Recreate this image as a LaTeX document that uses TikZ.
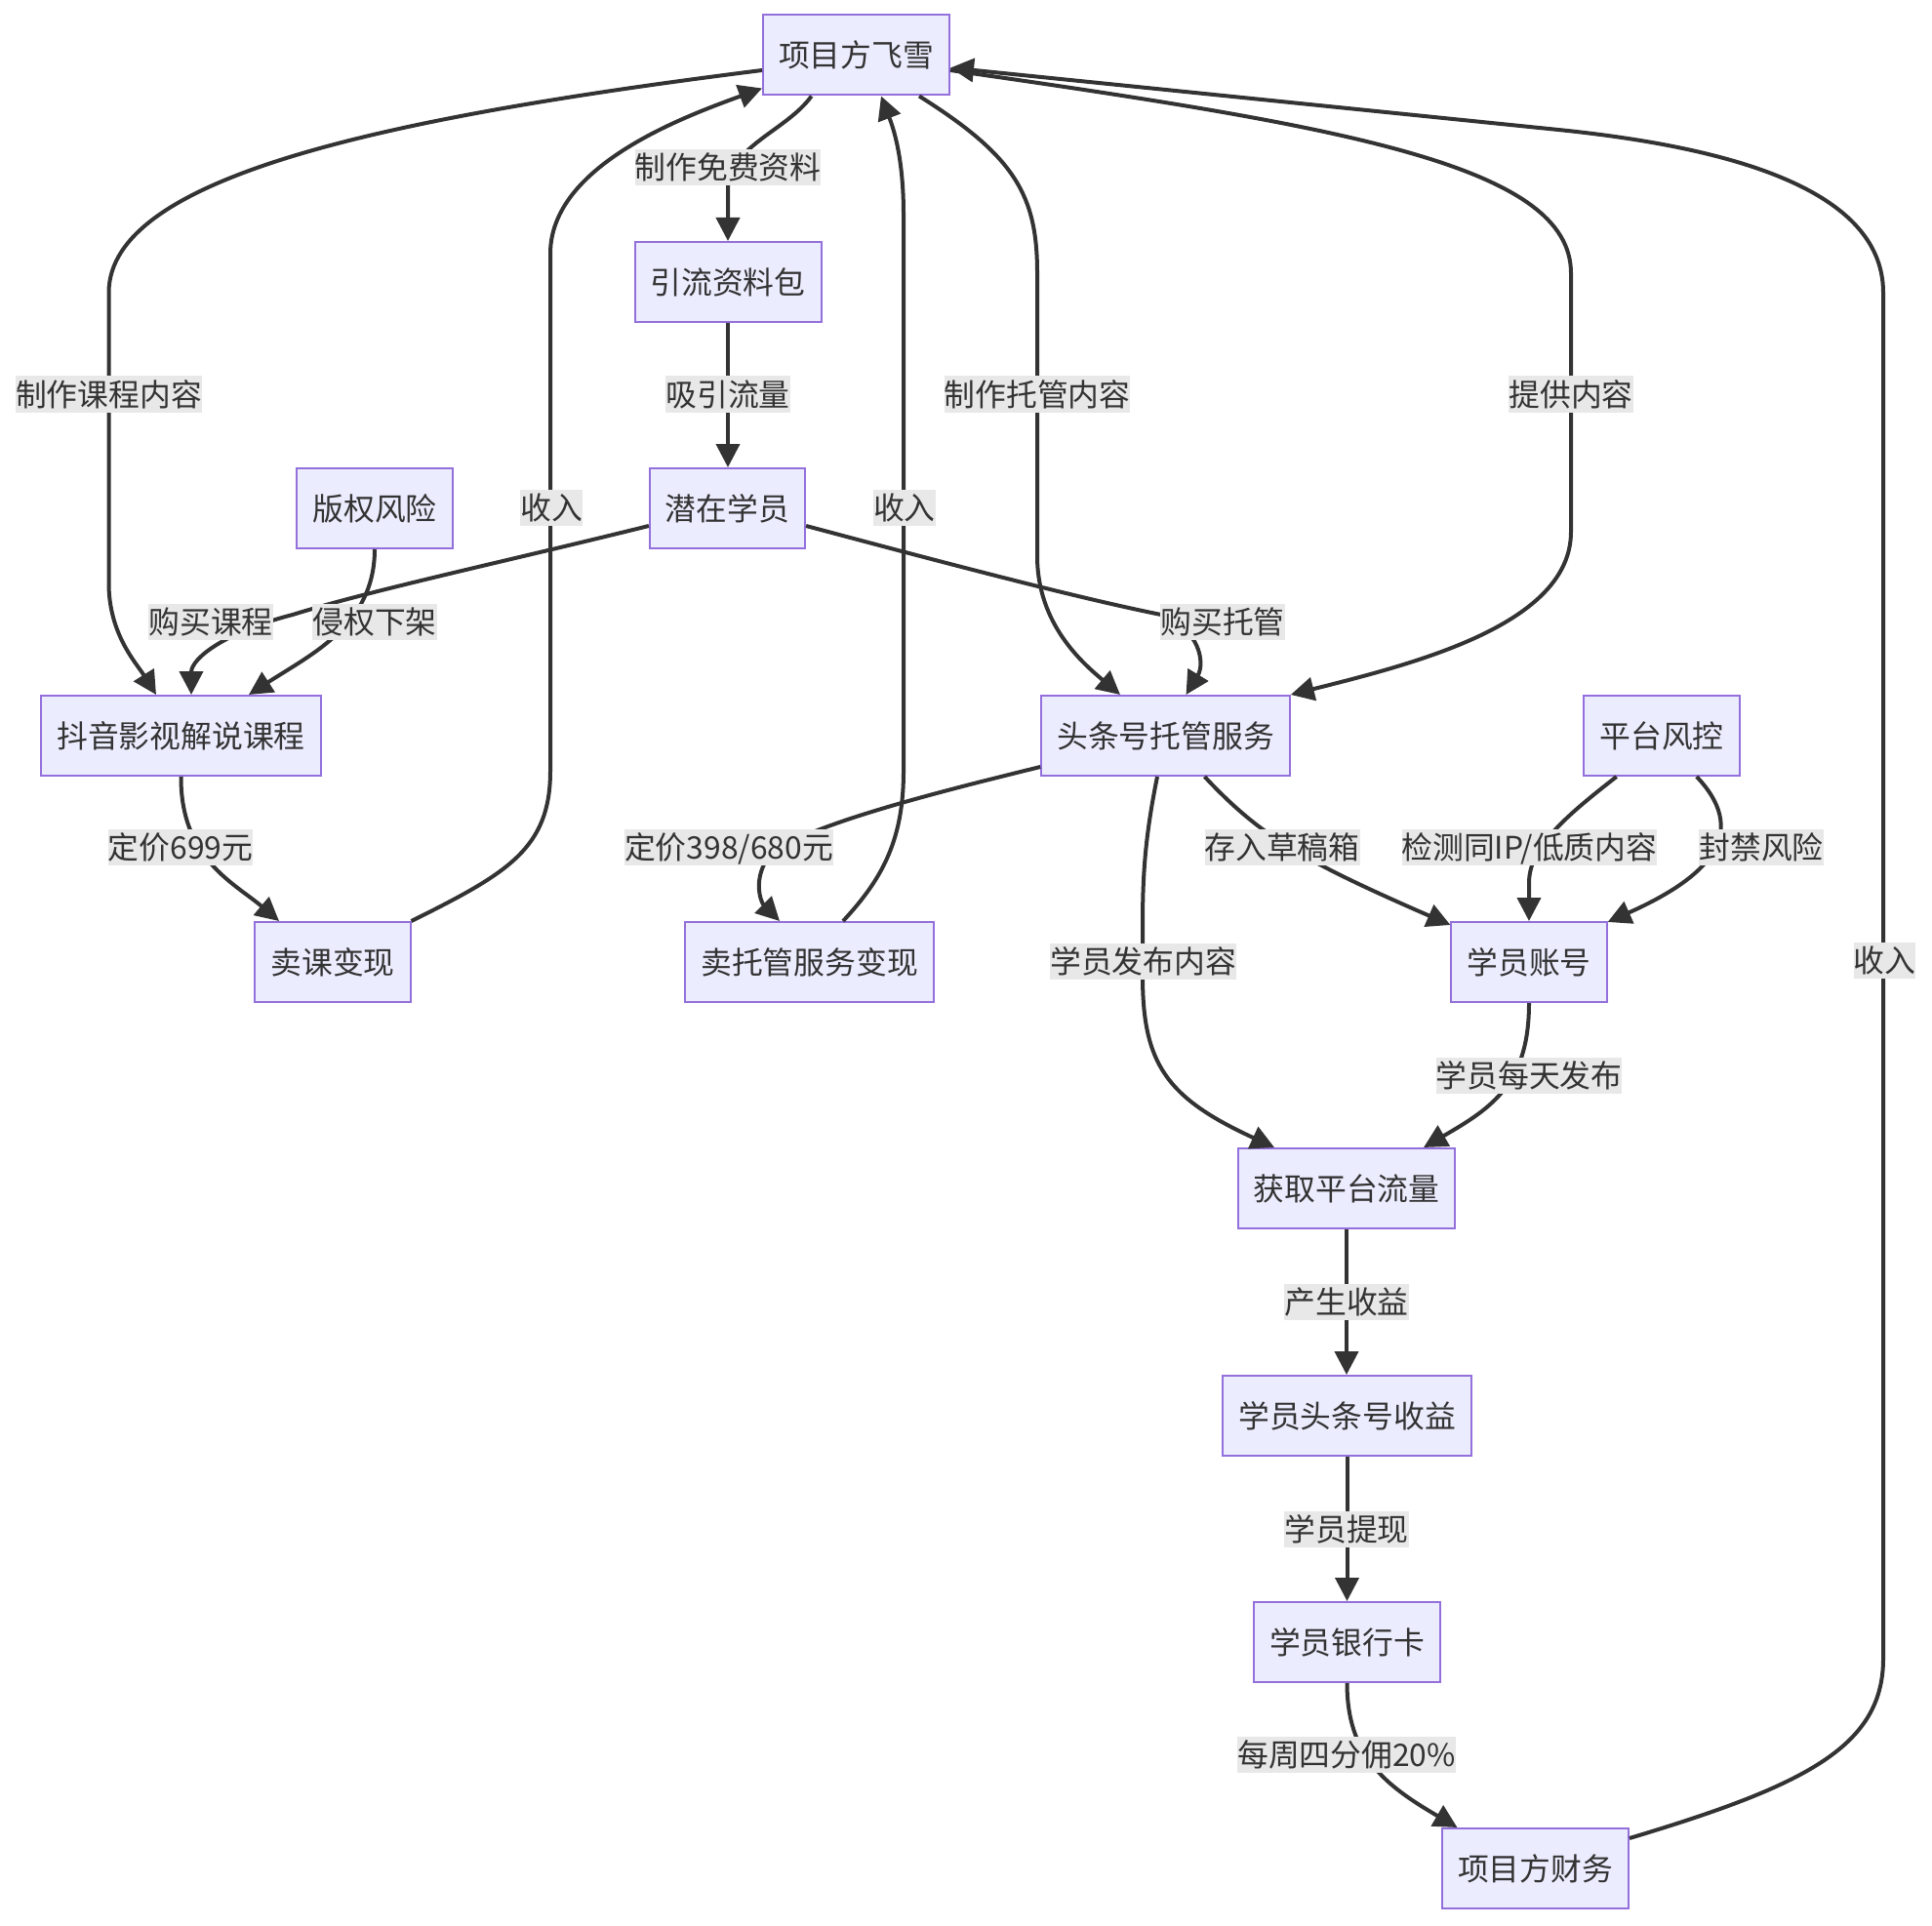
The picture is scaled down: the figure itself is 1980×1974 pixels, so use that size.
\documentclass[tikz,border=0pt]{standalone}
\usepackage{fontspec}
\setmainfont{Noto Sans CJK SC}
\usetikzlibrary{arrows.meta,calc}
\definecolor{boxfill}{HTML}{ECECFF}
\definecolor{boxborder}{HTML}{9370DB}
\definecolor{linec}{HTML}{333333}
\definecolor{textc}{HTML}{333333}
\definecolor{labelbg}{HTML}{E8E8E8}
\tikzset{
  box/.style={draw=boxborder, fill=boxfill, line width=1pt, inner xsep=8pt, inner ysep=0pt,
    minimum height=41pt, text=textc, text height=14pt, text depth=1.9pt,
    font=\fontsize{15.9pt}{19pt}\selectfont},
  elabel/.style={fill=labelbg, inner sep=0pt, minimum height=18.5pt, text=textc,
    text height=14pt, text depth=1.9pt, font=\fontsize{15.9pt}{19pt}\selectfont},
  flow/.style={draw=linec, line width=2pt, -{Triangle[length=12pt,width=12pt]}}
}
\begin{document}
\begin{tikzpicture}[x=0.5pt,y=-0.5pt]
\useasboundingbox (0,0) rectangle (1980,1974);
% nodes
\node[box] (A) at (877.5,56.5) {项目方飞雪};
\node[box] (B) at (746,289) {引流资料包};
\node[box] (C) at (745.5,521) {潜在学员};
\node[box] (D) at (384,521) {版权风险};
\node[box] (E) at (185.5,754) {抖音影视解说课程};
\node[box] (F) at (341,986) {卖课变现};
\node[box] (G) at (829.5,986) {卖托管服务变现};
\node[box] (H) at (1194.5,754) {头条号托管服务};
\node[box] (I) at (1703,754) {平台风控};
\node[box] (J) at (1567,986) {学员账号};
\node[box] (K) at (1380,1218) {获取平台流量};
\node[box] (L) at (1380.5,1451) {学员头条号收益};
\node[box] (M) at (1380.5,1683) {学员银行卡};
\node[box] (N) at (1573.5,1915) {项目方财务};
% edges
\draw[flow] ($(A.west)+(0,15.5)$) .. controls (400,120) and (111.5,180) .. (111.5,300)
  -- (111.5,598) .. controls (111.5,650) and (140,680) .. ($(E.north)+(-25.5,0)$);
\draw[flow] ($(A.south)+(-45.8,0)$) .. controls (805,135) and (746,150) .. (746,195) -- (B.north);
\draw[flow] (B.south) -- (B.south |- C.north);
\draw[flow] ($(C.west)+(0,18)$) .. controls (520,575) and (380,605) .. (300,630)
  .. controls (230,648) and (196,675) .. ($(E.north)+(10.5,0)$);
\draw[flow] (D.south) .. controls (384,640) and (320,670) .. ($(E.north)+(69.5,0)$);
\draw[flow] (E.south) .. controls (185,880) and (240,905) .. ($(F.north)+(-55,0)$);
\draw[flow] (F.north east) .. controls (520,895) and (564,870) .. (564,790)
  -- (564,260) .. controls (564,170) and (700,120) .. ($(A.west)+(0,34)$);
\draw[flow] ($(A.south)+(64.5,0)$) .. controls (1040,160) and (1063,200) .. (1063,280)
  -- (1063,570) .. controls (1063,640) and (1110,680) .. ($(H.north)+(-46.5,0)$);
\draw[flow] ($(C.east)+(0,18)$) .. controls (950,572) and (1100,612) .. (1190,630)
  .. controls (1230,645) and (1235,680) .. ($(H.north)+(21,0)$);
\draw[flow] ($(H.south west)+(0,-10)$) .. controls (960,812) and (830,845) .. (790,875)
  .. controls (770,900) and (780,925) .. ($(G.north)+(-30.5,0)$);
\draw[flow] ($(G.north)+(34.5,0)$) .. controls (905,900) and (926,860) .. (926,790)
  -- (926,220) .. controls (926,160) and (915,130) .. ($(A.south)+(25.5,0)$);
\draw[flow] ($(A.east)+(0,15.5)$) .. controls (1380,130) and (1610,170) .. (1610,280)
  -- (1610,545) .. controls (1610,640) and (1450,680) .. (H.north east);
\draw[flow] ($(N.east)+(0,-31)$) .. controls (1850,1830) and (1930,1790) .. (1930,1700)
  -- (1930,300) .. controls (1930,190) and (1760,150) .. (1600,133.3) -- ($(A.east)+(0,13)$);
\draw[flow] ($(H.south)+(40,0)$) .. controls (1290,855) and (1330,880) .. ($(J.north west)+(0,4)$);
\draw[flow] ($(I.south)+(-46.3,0)$) .. controls (1600,840) and (1567,870) .. (1567,905) -- (J.north);
\draw[flow] ($(I.south)+(35.8,0)$) .. controls (1790,850) and (1760,895) .. ($(J.north east)+(0,1)$);
\draw[flow] ($(H.south)+(-8.5,0)$) .. controls (1173,860) and (1171,900) .. (1171,950)
  -- (1171,1000) .. controls (1171,1090) and (1195,1125) .. ($(K.north)+(-74,0)$);
\draw[flow] (J.south) .. controls (1567,1110) and (1530,1135) .. ($(K.north)+(79,0)$);
\draw[flow] (K.south) -- (K.south |- L.north);
\draw[flow] (L.south) -- (M.north);
\draw[flow] (M.south) .. controls (1380.5,1800) and (1420,1830) .. ($(N.north)+(-80,0)$);
% edge labels
\node[elabel] (l1) at (111.5,404) {制作课程内容};
\node[elabel] (l2) at (746,171.7) {制作免费资料};
\node[elabel] (l3) at (746,404) {吸引流量};
\node[elabel] (l4) at (1063,404) {制作托管内容};
\node[elabel] (l5) at (1610,404) {提供内容};
\node[elabel] (l6) at (565,520.6) {收入};
\node[elabel] (l7) at (926.8,520.6) {收入};
\node[elabel] (l8) at (216,637.6) {购买课程};
\node[elabel] (l9) at (384,637.6) {侵权下架};
\node[elabel] (l10) at (1253,637.6) {购买托管};
\node[elabel] (l11) at (185,868.6) {定价699元};
\node[elabel] (l12) at (747,868.6) {定价398/680元};
\node[elabel] (l13) at (1314,868.6) {存入草稿箱};
\node[elabel] (l14) at (1567.4,868.6) {检测同IP/低质内容};
\node[elabel] (l15) at (1805,868.6) {封禁风险};
\node[elabel] (l16) at (1931.5,984) {收入};
\node[elabel] (l17) at (1171.7,985.6) {学员发布内容};
\node[elabel] (l18) at (1567,1102) {学员每天发布};
\node[elabel] (l19) at (1380,1334.6) {产生收益};
\node[elabel] (l20) at (1380,1567) {学员提现};
\node[elabel] (l21) at (1380,1798.6) {每周四分佣20\%};
\end{tikzpicture}
\end{document}
